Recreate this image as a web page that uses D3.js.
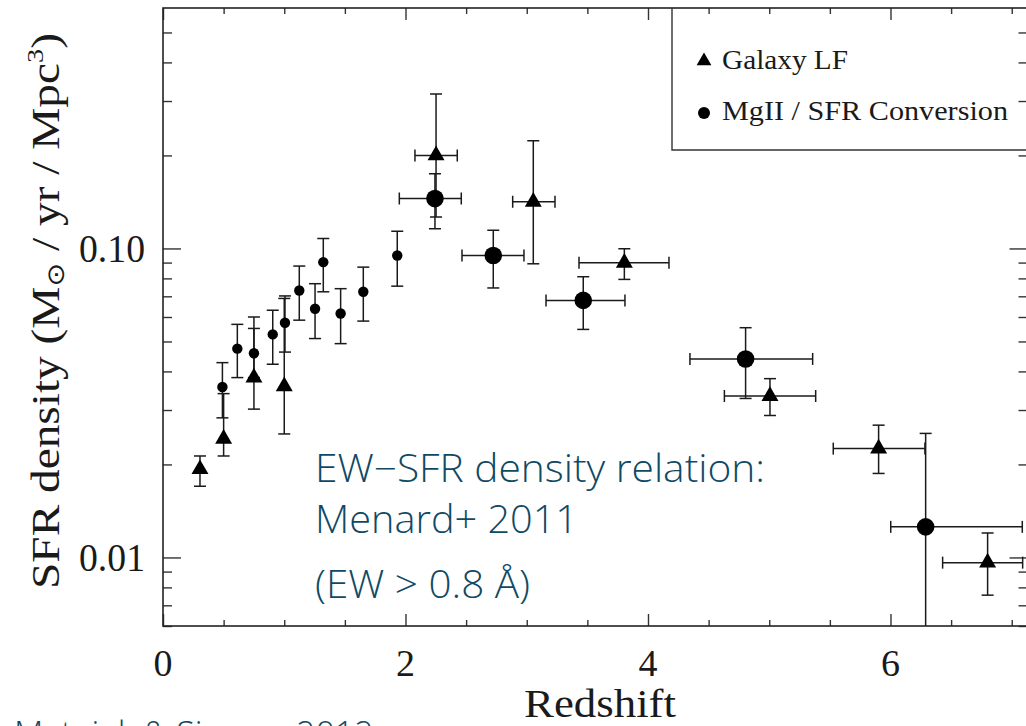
<!DOCTYPE html>
<html><head><meta charset="utf-8">
<script src="https://cdn.jsdelivr.net/npm/d3@7"></script>
<style>
html,body{margin:0;padding:0;background:#fff;overflow:hidden;}
svg{display:block;}
</style></head>
<body>
<svg id="c" width="1026" height="726"></svg>
<script>
// ---- data ----
// Galaxy LF (triangles)
const lfZ     = [0.305, 0.50, 0.75, 1.00, 2.252, 3.054, 3.805, 5.006, 5.902, 6.801];
const lfZLo   = [null, null, null, null, 2.078, 2.884, 3.431, 4.630, 5.528, 6.430];
const lfZHi   = [null, null, null, null, 2.427, 3.233, 4.173, 5.383, 6.284, 7.09];
const lfSFR   = [0.0193, 0.0242, 0.0382, 0.0358, 0.200, 0.1416, 0.0899, 0.0333, 0.0225, 0.00962];
const lfSFRLo = [0.0170, 0.0213, 0.0302, 0.0251, 0.1263, 0.0892, 0.0794, 0.0288, 0.0187, 0.00755];
const lfSFRHi = [0.0213, 0.0339, 0.0551, 0.0689, 0.316, 0.223, 0.0998, 0.0379, 0.0268, 0.0120];

// MgII / SFR conversion (circles)
const mgZ     = [0.49, 0.613, 0.75, 0.905, 1.006, 1.124, 1.254, 1.322, 1.465, 1.652, 1.932, 2.243, 2.724, 3.466, 4.805, 6.290];
const mgZLo   = [null, null, null, null, null, null, null, null, null, null, null, 1.949, 2.466, 3.159, 4.346, 6.002];
const mgZHi   = [null, null, null, null, null, null, null, null, null, null, null, 2.460, 2.977, 3.810, 5.358, 7.087];
const mgSFR   = [0.0356, 0.0474, 0.0458, 0.0527, 0.0575, 0.0731, 0.0638, 0.0903, 0.0616, 0.0724, 0.0949, 0.145, 0.0949, 0.0679, 0.0439, 0.01256];
const mgSFRLo = [0.0283, 0.0382, 0.0382, 0.0422, 0.0462, 0.0586, 0.0511, 0.0724, 0.0492, 0.0582, 0.0755, 0.1158, 0.0745, 0.0547, 0.0327, 0.005];
const mgSFRHi = [0.0427, 0.0568, 0.0600, 0.0631, 0.0702, 0.0877, 0.0769, 0.1077, 0.0741, 0.0870, 0.1137, 0.1745, 0.1145, 0.0810, 0.0554, 0.0252];

const xTickLabels = ["0", "2", "4", "6"];
const yTickLabels = ["0.01", "0.10"];
const legendLabels = ["Galaxy LF", "MgII / SFR Conversion"];
const noteLines = ["EW\u2212SFR density relation:", "Menard+ 2011", "(EW > 0.8 \u00C5)"];
const creditText = "Matejek & Simcoe 2012";

// ---- layout ----
const L = 163, R = 1027.5, T = 8, B = 626;
const x = d3.scaleLinear().domain([0, 7.13]).range([L, R]);
const y = d3.scaleLog().domain([0.006, 0.6]).range([B, T]);

const svg = d3.select("#c");
const serif = "'Liberation Serif', 'DejaVu Serif', serif";
const sans = "'Open Sans', 'Noto Sans', sans-serif";
const ink = "#1a1a1a";
const teal = "#0f4a65";

svg.append("defs").append("clipPath").attr("id", "clip")
  .append("rect").attr("x", L).attr("y", T).attr("width", R - L).attr("height", B - T);

// ticks via axes (inward)
const xMajor = [0, 2, 4, 6];
const xMinor = d3.range(0, 7.01, 0.5).filter(v => !xMajor.includes(v));
const yMajor = [0.01, 0.1];
const yMinor = [0.006,0.007,0.008,0.009,0.02,0.03,0.04,0.05,0.06,0.07,0.08,0.09,0.2,0.3,0.4,0.5];

function styleAxis(g){ g.select(".domain").remove(); g.selectAll("line").attr("stroke", "#333").attr("stroke-width", 1.4); g.selectAll("text").remove(); }

svg.append("g").attr("transform", `translate(0,${B})`).call(d3.axisBottom(x).tickValues(xMajor).tickSizeInner(-12).tickSizeOuter(0)).call(styleAxis);
svg.append("g").attr("transform", `translate(0,${B})`).call(d3.axisBottom(x).tickValues(xMinor).tickSizeInner(-6).tickSizeOuter(0)).call(styleAxis);
svg.append("g").attr("transform", `translate(0,${T})`).call(d3.axisTop(x).tickValues(xMajor).tickSizeInner(-12).tickSizeOuter(0)).call(styleAxis);
svg.append("g").attr("transform", `translate(0,${T})`).call(d3.axisTop(x).tickValues(xMinor).tickSizeInner(-6).tickSizeOuter(0)).call(styleAxis);
svg.append("g").attr("transform", `translate(${L},0)`).call(d3.axisLeft(y).tickValues(yMajor).tickSizeInner(-18).tickSizeOuter(0)).call(styleAxis);
svg.append("g").attr("transform", `translate(${L},0)`).call(d3.axisLeft(y).tickValues(yMinor).tickSizeInner(-9).tickSizeOuter(0)).call(styleAxis);
svg.append("g").attr("transform", `translate(${R},0)`).call(d3.axisRight(y).tickValues(yMajor).tickSizeInner(-18).tickSizeOuter(0)).call(styleAxis);
svg.append("g").attr("transform", `translate(${R},0)`).call(d3.axisRight(y).tickValues(yMinor).tickSizeInner(-9).tickSizeOuter(0)).call(styleAxis);

// frame
svg.append("rect").attr("x", L).attr("y", T).attr("width", R - L).attr("height", B - T)
  .attr("fill", "none").attr("stroke", "#222").attr("stroke-width", 1.6);

// tick labels
svg.append("g").selectAll("text").data(xMajor).join("text")
  .attr("x", d => x(d)).attr("y", 676).attr("text-anchor", "middle")
  .attr("font-family", serif).attr("font-size", 38).attr("fill", ink)
  .text((d, i) => xTickLabels[i]);
svg.append("g").selectAll("text").data(yMajor).join("text")
  .attr("x", 145).attr("y", d => y(d) + 14).attr("text-anchor", "end")
  .attr("font-family", serif).attr("font-size", 40).attr("fill", ink)
  .attr("textLength", 66).attr("lengthAdjust", "spacingAndGlyphs")
  .text((d, i) => yTickLabels[i]);

// axis titles
svg.append("text").attr("x", 600).attr("y", 717).attr("text-anchor", "middle")
  .attr("font-family", serif).attr("font-size", 39).attr("fill", ink)
  .attr("textLength", 152).attr("lengthAdjust", "spacingAndGlyphs").text("Redshift");
const yt = svg.append("text").attr("transform", "translate(59,311) rotate(-90)").attr("text-anchor", "middle")
  .attr("font-family", serif).attr("font-size", 40).attr("fill", ink)
  .attr("textLength", 556).attr("lengthAdjust", "spacingAndGlyphs");
yt.append("tspan").text("SFR density (M");
yt.append("tspan").attr("font-family", "'DejaVu Sans', sans-serif").attr("font-size", 24).attr("dy", 5).text("\u2299");
yt.append("tspan").attr("dy", -5).text(" / yr / Mpc");
yt.append("tspan").attr("font-size", 24).attr("dy", -16).text("3");
yt.append("tspan").attr("dy", 16).text(")");

// plot content
const plot = svg.append("g").attr("clip-path", "url(#clip)");
function errorBars(zs, zlo, zhi, v, vlo, vhi){
  const g = plot.append("g").attr("stroke", ink).attr("stroke-width", 1.5).attr("fill", "none");
  zs.forEach((z, i) => {
    const cx = x(z), cy = y(v[i]);
    const y1 = y(vhi[i]), y2 = y(vlo[i]);
    g.append("line").attr("x1", cx).attr("x2", cx).attr("y1", y1).attr("y2", y2);
    g.append("line").attr("x1", cx - 6).attr("x2", cx + 6).attr("y1", y1).attr("y2", y1);
    g.append("line").attr("x1", cx - 6).attr("x2", cx + 6).attr("y1", y2).attr("y2", y2);
    if (zlo[i] !== null) {
      const x1 = x(zlo[i]), x2 = x(zhi[i]);
      g.append("line").attr("x1", x1).attr("x2", x2).attr("y1", cy).attr("y2", cy);
      g.append("line").attr("x1", x1).attr("x2", x1).attr("y1", cy - 6).attr("y2", cy + 6);
      g.append("line").attr("x1", x2).attr("x2", x2).attr("y1", cy - 6).attr("y2", cy + 6);
    }
  });
}
errorBars(lfZ, lfZLo, lfZHi, lfSFR, lfSFRLo, lfSFRHi);
errorBars(mgZ, mgZLo, mgZHi, mgSFR, mgSFRLo, mgSFRHi);

const tri = d3.symbol().type(d3.symbolTriangle).size(125);
plot.append("g").selectAll("path").data(lfZ).join("path")
  .attr("d", tri).attr("transform", (d, i) => `translate(${x(d)},${y(lfSFR[i])})`).attr("fill", "#000");
plot.append("g").selectAll("circle").data(mgZ).join("circle")
  .attr("cx", d => x(d)).attr("cy", (d, i) => y(mgSFR[i]))
  .attr("r", (d, i) => mgZLo[i] === null ? 5.2 : 8.8).attr("fill", "#000");

// legend
svg.append("path").attr("d", `M672,${T}V150H${R}`).attr("fill", "none").attr("stroke", "#333").attr("stroke-width", 1.4);
svg.append("path").attr("d", d3.symbol().type(d3.symbolTriangle).size(95)).attr("transform", "translate(704,61)").attr("fill", "#000");
svg.append("circle").attr("cx", 704).attr("cy", 113).attr("r", 6).attr("fill", "#000");
svg.selectAll(".leg").data(legendLabels).join("text").attr("class", "leg")
  .attr("x", 722).attr("y", (d, i) => 69 + i * 51)
  .attr("font-family", serif).attr("font-size", 28).attr("fill", ink)
  .attr("textLength", (d, i) => [126, 286][i]).attr("lengthAdjust", "spacingAndGlyphs")
  .text(d => d);

// annotations
svg.selectAll(".note").data(noteLines).join("text").attr("class", "note")
  .attr("x", 315).attr("y", (d, i) => [482, 533, 598][i])
  .attr("font-family", sans).attr("font-weight", 300).attr("font-size", 38).attr("fill", teal)
  .attr("textLength", (d, i) => [450, 263, 215][i]).attr("lengthAdjust", "spacingAndGlyphs")
  .text(d => d);
svg.append("text").attr("x", 14).attr("y", 746).attr("font-family", sans).attr("font-weight", 300).attr("font-size", 34)
  .attr("fill", teal).text(creditText);
</script>
</body></html>
